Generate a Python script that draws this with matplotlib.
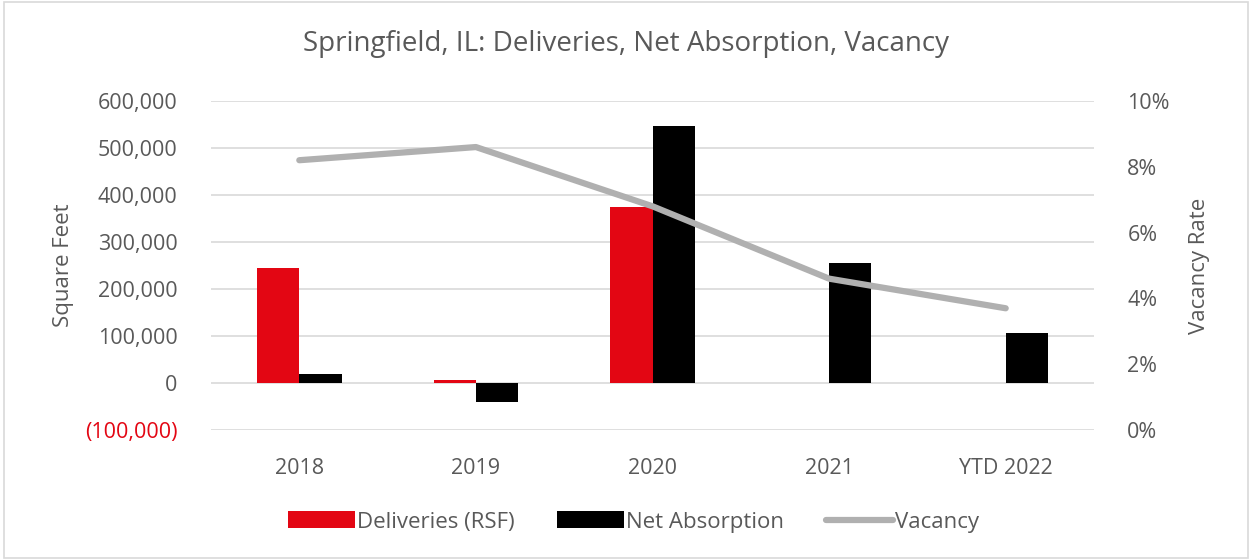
import matplotlib
matplotlib.use("Agg")
import matplotlib.pyplot as plt
import numpy as np
from matplotlib.ticker import FuncFormatter
from matplotlib.patches import Rectangle

categories = ["2018", "2019", "2020", "2021", "YTD 2022"]
deliveries = [245000, 6000, 374000, 0, 0]
net_absorption = [20000, -40000, 547000, 255000, 106000]
vacancy = [8.2, 8.6, 6.8, 4.6, 3.7]

title = "Springfield, IL: Deliveries, Net Absorption, Vacancy"
font = ["Open Sans", "DejaVu Sans"]
plt.rcParams['font.family'] = font
gray_text = "#595959"

fig = plt.figure(figsize=(12.52, 5.6), dpi=100)
ax = fig.add_axes([211/1252, 1-430/560, (1094-211)/1252, (430-101)/560])
ax2 = ax.twinx()

x = np.arange(len(categories))
w = 0.24
ax.bar(x - w/2, deliveries, w, color="#e30613", label="Deliveries (RSF)", zorder=3)
ax.bar(x + w/2, net_absorption, w, color="#000000", label="Net Absorption", zorder=3)
ax2.plot(x, vacancy, color="#b0b0b0", lw=4.5, solid_capstyle="round", label="Vacancy", zorder=4)

ax.set_xlim(-0.5, len(categories) - 0.5)
ax.set_ylim(-100000, 600000)
ax.set_yticks(np.arange(-100000, 600001, 100000))
def fmt(v, p):
    if v < 0:
        return "({:,.0f})".format(-v)
    return "{:,.0f}".format(v)
ax.yaxis.set_major_formatter(FuncFormatter(fmt))
ax2.set_ylim(0, 10)
ax2.set_yticks(np.arange(0, 10.1, 2))
ax2.yaxis.set_major_formatter(FuncFormatter(lambda v, p: "{:.0f}%".format(v)))

ax.set_xticks(x)
ax.set_xticklabels(categories)
ax.grid(axis="y", color="#d9d9d9", lw=1.2, zorder=0)
ax.set_axisbelow(True)
for a in (ax, ax2):
    for s in a.spines.values():
        s.set_visible(False)
    a.tick_params(length=0, labelsize=15.5, colors=gray_text)
ax.tick_params(axis="y", pad=24)
ax.tick_params(axis="x", pad=20)
ax2.tick_params(axis="y", pad=24)
for lbl in ax.get_yticklabels():
    if lbl.get_text().startswith("("):
        lbl.set_color("#e30613")
ax.set_ylabel("Square Feet", fontsize=16, color=gray_text, labelpad=8)
ax2.set_ylabel("Vacancy Rate", fontsize=16, color=gray_text, labelpad=14)

fig.text(0.5, 1-44/560, title, ha="center", va="center", fontsize=20, color=gray_text)

h1, l1 = ax.get_legend_handles_labels()
h2, l2 = ax2.get_legend_handles_labels()
leg = fig.legend(h1 + h2, l1 + l2, loc="center", bbox_to_anchor=(0.506, 1-522/560),
                 ncol=3, frameon=False, fontsize=16, labelcolor=gray_text,
                 handlelength=3.0, handleheight=0.8, handletextpad=0.1, columnspacing=1.9)

fig.patches.append(Rectangle((0.003, 0.003), 0.994, 0.994, transform=fig.transFigure,
                             fill=False, edgecolor="#d9d9d9", lw=1.2))
fig.savefig("out.png", dpi=100, facecolor="white")
